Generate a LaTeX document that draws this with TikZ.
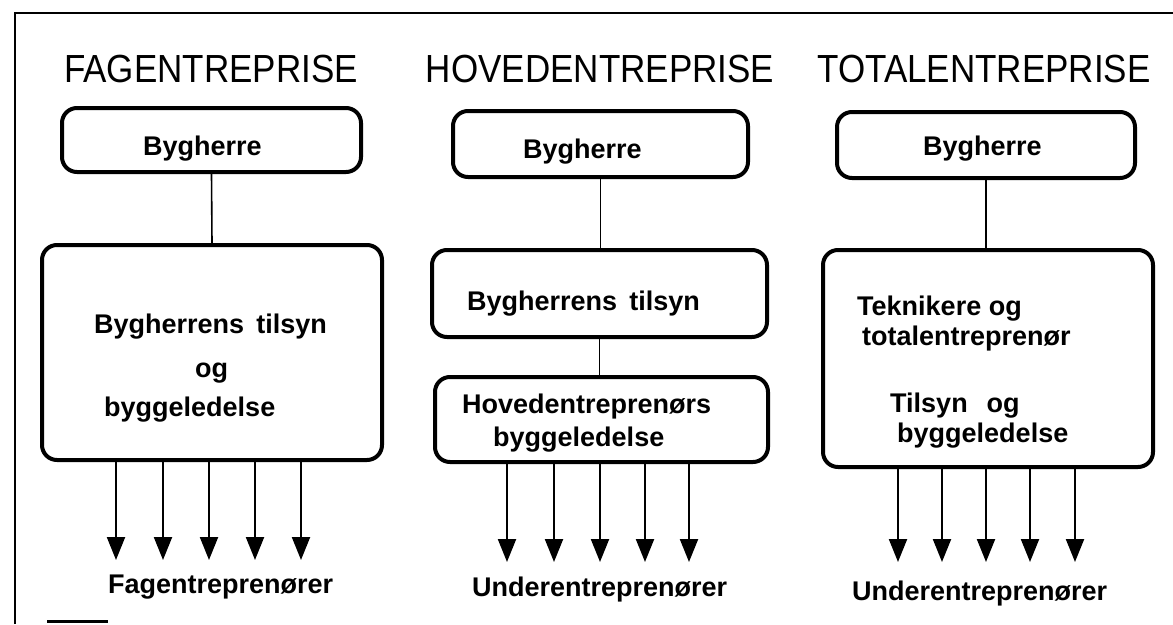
\documentclass[tikz,border=0pt]{standalone}
\usepackage{graphicx}
\usepackage{fontspec}
\setmainfont{Liberation Sans}
\usetikzlibrary{arrows.meta,calc}
\begin{document}
\begin{tikzpicture}[x=1pt,y=-1pt,
  box/.style={draw, line width=4pt, rounded corners=15pt, inner sep=0pt},
  ttl/.style={font=\fontsize{35}{40}\selectfont, inner sep=0pt},
  txt/.style={font=\bfseries\fontsize{27}{30}\selectfont, inner sep=0pt, anchor=base west},
  link/.style={line width=1.6pt},
  arr/.style={line width=2.2pt, -{Triangle[length=23pt,width=18pt]}},
  frame/.style={line width=2pt}]
\useasboundingbox (0,0) rectangle (1173,624);

% frame
\coordinate (fbl) at (15,624);
\coordinate (ftl) at (15,13);
\coordinate (ftr) at (1173,13);
\draw[frame] (fbl) -- (ftl) -- (ftr);
\coordinate (m1) at (47,621);
\coordinate (m2) at (108,621);
\draw[line width=3pt] (m1) -- (m2);

% titles
\node[ttl] (t1) at (211,69) {\scalebox{1}[1.12]{FAGENTREPRISE}};
\node[ttl] (t2) at (600,69) {\scalebox{1}[1.12]{HOVEDENTREPRISE}};
\node[ttl] (t3) at (984,69) {\scalebox{1}[1.12]{TOTALENTREPRISE}};

% column 1
\node[box, minimum width=299pt, minimum height=64pt] (by1) at (211.5,140) {};
\node[box, minimum width=340pt, minimum height=215pt] (big1) at (212,352.5) {};
\draw[link] (by1.south) -- (big1.north);
\node[txt] (by1t) at (143,155) {Bygherre};
\node[txt] (big1a) at (94,333) {Bygherrens\hspace{0.45em}tilsyn};
\node[txt] (big1b) at (195,377) {og};
\node[txt] (big1c) at (104,416) {byggeledelse};
\node[txt] (lab1) at (108,593) {Fagentreprenører};
\foreach \i/\x in {1/116,2/163,3/209,4/255,5/301}{
  \coordinate (a1\i) at (\x,560);
  \draw[arr] (a1\i |- big1.south) -- (a1\i);
}

% column 2
\node[box, minimum width=295pt, minimum height=66pt] (by2) at (600.5,144) {};
\node[box, minimum width=335pt, minimum height=87pt] (ti2) at (599.5,293.5) {};
\node[box, minimum width=333pt, minimum height=85pt] (ho2) at (601.5,419.5) {};
\draw[link] (by2.south) -- (by2.south |- ti2.north);
\draw[link] (ti2.south) -- (ti2.south |- ho2.north);
\node[txt] (by2t) at (523,158) {Bygherre};
\node[txt] (ti2t) at (467,310) {Bygherrens\hspace{0.45em}tilsyn};
\node[txt] (ho2a) at (462,413) {Hovedentreprenørs};
\node[txt] (ho2b) at (493,446) {byggeledelse};
\node[txt] (lab2) at (472,596) {Underentreprenører};
\foreach \i/\x in {1/507,2/554,3/600,4/645,5/689}{
  \coordinate (a2\i) at (\x,562);
  \draw[arr] (a2\i |- ho2.south) -- (a2\i);
}

% column 3
\node[box, minimum width=298pt, minimum height=66pt] (by3) at (986,145) {};
\node[box, minimum width=330pt, minimum height=217pt] (big3) at (988,358.5) {};
\draw[link] (by3.south) -- (by3.south |- big3.north);
\node[txt] (by3t) at (923,155) {Bygherre};
\node[txt] (big3a) at (857,315) {Teknikere og};
\node[txt] (big3b) at (862,345) {totalentreprenør};
\node[txt] (big3c) at (890,412) {Tilsyn\hspace{0.7em}og};
\node[txt] (big3d) at (897,442) {byggeledelse};
\node[txt] (lab3) at (852,600) {Underentreprenører};
\foreach \i/\x in {1/898,2/942,3/986,4/1030,5/1075}{
  \coordinate (a3\i) at (\x,562);
  \draw[arr] (a3\i |- big3.south) -- (a3\i);
}
\end{tikzpicture}
\end{document}
